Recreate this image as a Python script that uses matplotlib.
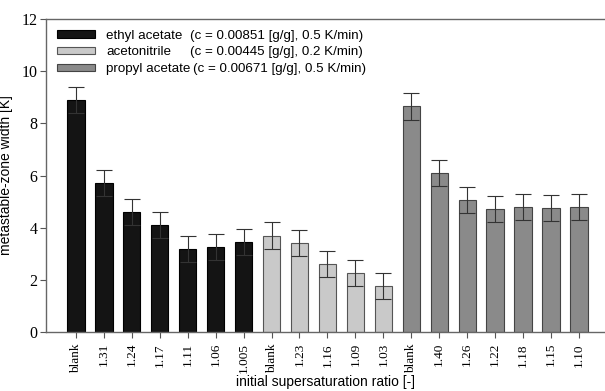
import matplotlib
matplotlib.use("Agg")
import matplotlib.pyplot as plt
import numpy as np

ethyl_labels = ["blank", "1.31", "1.24", "1.17", "1.11", "1.06", "1.005"]
ethyl_values = [8.9, 5.7, 4.6, 4.1, 3.2, 3.25, 3.45]
ethyl_err = [0.5, 0.5, 0.5, 0.5, 0.5, 0.5, 0.5]

acn_labels = ["blank", "1.23", "1.16", "1.09", "1.03"]
acn_values = [3.7, 3.4, 2.6, 2.25, 1.75]
acn_err = [0.5, 0.5, 0.5, 0.5, 0.5]

propyl_labels = ["blank", "1.40", "1.26", "1.22", "1.18", "1.15", "1.10"]
propyl_values = [8.65, 6.1, 5.05, 4.7, 4.8, 4.75, 4.8]
propyl_err = [0.5, 0.5, 0.5, 0.5, 0.5, 0.5, 0.5]

series_names = ["ethyl acetate", "acetonitrile", "propyl acetate"]
series_info = ["(c = 0.00851 [g/g], 0.5 K/min)",
               "(c = 0.00445 [g/g], 0.2 K/min)",
               "(c = 0.00671 [g/g], 0.5 K/min)"]

fig = plt.figure(figsize=(6.05, 3.91), dpi=100)
ax = fig.add_axes([0.076, 0.151, 0.924, 0.80])

groups = [
    (ethyl_labels, ethyl_values, ethyl_err, "#141414", "#000000"),
    (acn_labels, acn_values, acn_err, "#c9c9c9", "#555555"),
    (propyl_labels, propyl_values, propyl_err, "#8a8a8a", "#444444"),
]
all_labels = []
start = 0
handles = []
for labels, vals, errs, fc, ec in groups:
    x = np.arange(start, start + len(vals))
    b = ax.bar(x, vals, width=0.62, color=fc, edgecolor=ec, linewidth=0.8, zorder=2)
    ax.errorbar(x, vals, yerr=errs, fmt="none", ecolor="#333333", elinewidth=0.8,
                capsize=6, capthick=0.8, zorder=3)
    handles.append(b)
    all_labels += labels
    start += len(vals)

ax.set_xlim(-1.07, 18.93)
ax.set_ylim(0, 12)
ax.set_yticks(range(0, 13, 2))
ax.set_xticks(np.arange(len(all_labels)))
ax.set_xticklabels(all_labels, rotation=90, fontfamily="Liberation Serif", fontsize=9.5)
for t in ax.get_yticklabels():
    t.set_fontfamily("Liberation Serif")
    t.set_fontsize(11.5)
ax.tick_params(axis="y", direction="out", length=4, width=0.8, color="#555555", pad=2)
ax.tick_params(axis="x", direction="out", length=4, width=0.8, color="#555555", pad=4)

for s in ["left", "top", "bottom"]:
    ax.spines[s].set_color("#666666")
    ax.spines[s].set_linewidth(1.0)
ax.spines["right"].set_visible(False)

ax.set_ylabel("metastable-zone width [K]", fontfamily="Liberation Sans", fontsize=10, labelpad=6)
ax.set_xlabel("initial supersaturation ratio [-]", fontfamily="Liberation Sans", fontsize=10)
ax.xaxis.set_label_coords(0.5, -0.138)

leg = ax.legend(handles, series_names, loc="upper left", bbox_to_anchor=(0.0, 1.0),
                frameon=False, prop={"family": "Liberation Sans", "size": 9.6},
                handlelength=2.9, handleheight=0.45, labelspacing=0.34,
                borderaxespad=0.5, handletextpad=0.8, borderpad=0.3)
fig.canvas.draw()
renderer = fig.canvas.get_renderer()
for txt, info in zip(leg.get_texts(), series_info):
    bb = txt.get_window_extent(renderer)
    yc = (bb.y0 + bb.y1) / 2
    xpix = max(190, bb.x1 + 3)
    fig.text(xpix / fig.bbox.width, yc / fig.bbox.height, info, fontfamily="Liberation Sans",
             fontsize=9.6, va="center", ha="left")

fig.savefig("out.png", dpi=100)
